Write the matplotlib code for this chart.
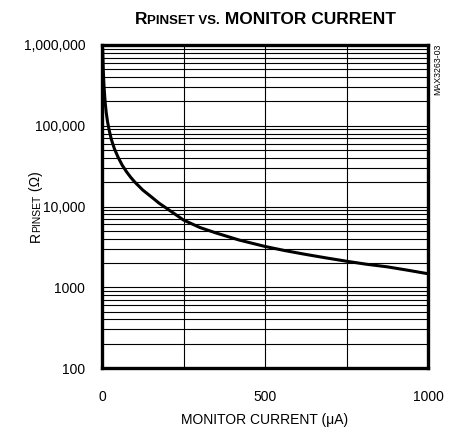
import matplotlib
matplotlib.use("Agg")
import matplotlib.pyplot as plt
from matplotlib.ticker import FixedLocator, NullFormatter
from matplotlib import font_manager

names = {f.name for f in font_manager.fontManager.ttflist}
NARROW = "Liberation Sans Narrow" if "Liberation Sans Narrow" in names else "Liberation Sans"
plt.rcParams['font.family'] = [NARROW, 'DejaVu Sans']

# data
current_uA = [2, 4, 6, 8, 10, 13, 17, 22, 29, 38, 49, 62, 75, 88, 101, 125, 150,
              175, 210, 250, 300, 350, 420, 500, 560, 625, 690, 750, 810, 875, 940, 1000]
r_pinset = [900000, 480000, 320000, 240000, 190000, 145000, 112000, 88000, 67000,
            52000, 41000, 32500, 27000, 23000, 20000, 16000, 13300, 11000, 8800, 6800,
            5500, 4700, 3850, 3200, 2850, 2550, 2300, 2100, 1930, 1790, 1620, 1470]

x_ticks = [0, 500, 1000]
x_ticklabels = ["0", "500", "1000"]
y_ticks = [100, 1000, 10000, 100000, 1000000]
y_ticklabels = ["100", "1000", "10,000", "100,000", "1,000,000"]

W, H = 454, 433
fig = plt.figure(figsize=(W / 100, H / 100), dpi=100)
ax = fig.add_axes([102 / W, 1 - 368 / H, 326 / W, 323 / H])

ax.set_yscale('log')
ax.set_xlim(0, 1000)
ax.set_ylim(100, 1000000)

# grid
minor_y = [m * 10 ** e for e in range(2, 6) for m in range(2, 10)]
ax.yaxis.set_minor_locator(FixedLocator(minor_y))
ax.yaxis.set_minor_formatter(NullFormatter())
ax.set_xticks(x_ticks)
ax.set_xticklabels(x_ticklabels)
ax.set_yticks(y_ticks)
ax.set_yticklabels(y_ticklabels)
ax.xaxis.set_minor_locator(FixedLocator([250, 750]))
ax.grid(True, which='both', axis='both', color='black', lw=0.8)
ax.set_axisbelow(True)

ax.tick_params(which='both', length=0)
ax.tick_params(axis='y', pad=12, labelsize=10)
ax.tick_params(axis='x', pad=16, labelsize=10)

for s in ax.spines.values():
    s.set_linewidth(2.4)

ax.plot(current_uA, r_pinset, color='black', lw=2.2, solid_capstyle='round',
        solid_joinstyle='round', zorder=5)

ax.set_xlabel("MONITOR CURRENT (\u03bcA)", fontsize=10, labelpad=6)

fig.text(438 / W, 1 - 44 / H, "MAX3263-03", rotation=90, fontsize=6.3,
         ha='center', va='top')

fig.canvas.draw()
renderer = fig.canvas.get_renderer()


def chain_h(pieces, x0, y0):
    x = x0
    for txt, size in pieces:
        t = fig.text(x / W, y0 / H, txt, fontsize=size, fontweight='bold',
                     ha='left', va='baseline', family=[NARROW, 'DejaVu Sans'])
        bb = t.get_window_extent(renderer)
        x = bb.x1
    return x


def chain_v(pieces, x0, y0):
    y = y0
    for txt, size in pieces:
        t = fig.text(x0 / W, y / H, txt, fontsize=size, rotation=90,
                     rotation_mode='anchor', ha='left', va='baseline',
                     family=[NARROW, 'DejaVu Sans'])
        bb = t.get_window_extent(renderer)
        y = bb.y1
    return y


title_pieces = [("R", 12.5), ("PINSET VS.", 9.5), (" MONITOR CURRENT", 12.5)]
total = 0
for txt, size in title_pieces:
    t = fig.text(0, 0, txt, fontsize=size, fontweight='bold', family=[NARROW, 'DejaVu Sans'])
    total += t.get_window_extent(renderer).width
    t.remove()
chain_h(title_pieces, 265 - total / 2, H - 24)

ylab_pieces = [("R", 10), ("PINSET", 7.5), (" (\u03a9)", 10)]
total = 0
for txt, size in ylab_pieces:
    t = fig.text(0, 0, txt, fontsize=size, family=[NARROW, 'DejaVu Sans'])
    total += t.get_window_extent(renderer).width
    t.remove()
chain_v(ylab_pieces, 40, (H - 207) - total / 2)

fig.savefig("out.png", dpi=100)
